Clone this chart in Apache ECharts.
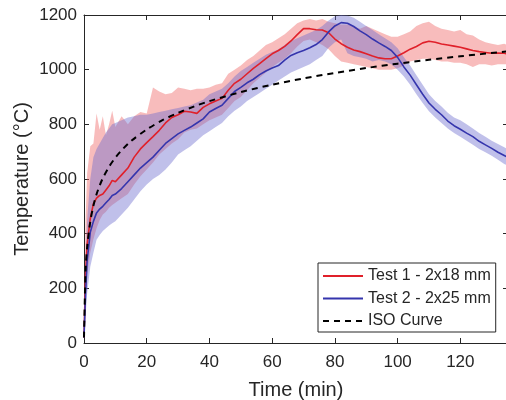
<!DOCTYPE html>
<html>
<head>
<meta charset="utf-8">
<script src="https://cdn.jsdelivr.net/npm/echarts@6/dist/echarts.min.js"></script>
<style>
  html, body { margin: 0; padding: 0; background: #ffffff; }
  #chart { width: 506px; height: 400px; }
</style>
</head>
<body>
<div id="chart"></div>
<script>
// time samples (min) shared by both tests
const time = [0, 0.5, 1, 2, 3, 4, 5, 6, 7, 8, 9, 10, 12, 14, 16, 18, 20, 22, 24, 26, 28, 30, 32, 34, 36, 38, 40,
  42, 44, 46, 48, 50, 52, 54, 56, 58, 60, 62, 64, 66, 68, 70, 72, 74, 76, 78, 80, 82, 84, 86, 88, 90,
  92, 94, 96, 98, 100, 102, 104, 106, 108, 110, 112, 114, 116, 118, 120, 122, 124, 126, 128, 130, 132, 134, 135];

// Test 1 - 2x18 mm
const test1Mean = [20, 250, 360, 455, 510, 530, 540, 545, 560, 575, 595, 590, 615, 640, 680, 710, 733, 755, 778, 805, 825, 835, 848, 845, 840, 862,
  875, 885, 895, 925, 950, 965, 985, 1005, 1022, 1040, 1058, 1070, 1085, 1105, 1128, 1150, 1150, 1146, 1145, 1135, 1112, 1095, 1082, 1072, 1066, 1058,
  1050, 1043, 1040, 1040, 1050, 1062, 1075, 1085, 1098, 1104, 1100, 1094, 1090, 1086, 1082, 1076, 1070, 1066, 1063, 1060, 1061, 1060, 1058];
const test1Low = [20, 150, 250, 330, 380, 420, 450, 470, 480, 495, 505, 513, 530, 545, 580, 610, 635, 660, 690, 710, 730, 745, 770, 780, 785, 800,
  815, 825, 835, 860, 885, 900, 925, 950, 970, 990, 1010, 1025, 1040, 1060, 1085, 1105, 1110, 1100, 1090, 1075, 1050, 1030, 1025, 1020, 1015, 1010,
  1005, 1000, 1000, 1000, 1005, 1015, 1030, 1035, 1040, 1040, 1035, 1030, 1030, 1025, 1025, 1020, 1010, 1020, 1020, 1015, 1020, 1020, 1020];
const test1High = [20, 450, 620, 720, 730, 840, 780, 830, 760, 800, 850, 790, 830, 800, 830, 845, 840, 935, 920, 910, 915, 935, 930, 925, 930, 930,
  935, 945, 950, 985, 1000, 1015, 1035, 1050, 1070, 1090, 1100, 1115, 1130, 1150, 1170, 1180, 1185, 1180, 1185, 1175, 1170, 1165, 1165, 1160, 1150, 1160,
  1150, 1140, 1130, 1120, 1120, 1130, 1140, 1160, 1170, 1175, 1160, 1150, 1145, 1140, 1145, 1130, 1125, 1110, 1100, 1095, 1090, 1095, 1090];

// Test 2 - 2x25 mm
const test2Mean = [20, 180, 300, 405, 445, 476, 490, 500, 513, 525, 540, 545, 565, 590, 615, 640, 660, 680, 705, 730, 748, 765, 778, 790, 805, 820,
  845, 858, 870, 895, 920, 935, 952, 965, 982, 995, 1006, 1015, 1035, 1052, 1062, 1070, 1080, 1092, 1110, 1138, 1160, 1172, 1170, 1158, 1142, 1128,
  1112, 1098, 1085, 1070, 1045, 1010, 980, 945, 910, 878, 855, 835, 812, 795, 782, 768, 755, 738, 725, 712, 698, 686, 680];
const test2Low = [20, 100, 180, 279, 330, 378, 395, 410, 420, 430, 438, 445, 470, 495, 525, 555, 580, 600, 615, 635, 660, 690, 705, 720, 740, 760,
  775, 790, 805, 830, 850, 865, 885, 900, 915, 930, 945, 960, 975, 990, 1000, 1010, 1020, 1035, 1050, 1080, 1100, 1110, 1060, 1050, 1045, 1040,
  1030, 1035, 1030, 1020, 1000, 975, 945, 910, 878, 848, 825, 805, 785, 768, 755, 740, 725, 710, 698, 685, 670, 655, 650];
const test2High = [20, 300, 450, 600, 680, 710, 730, 750, 770, 785, 800, 805, 815, 825, 830, 835, 835, 840, 845, 850, 855, 860, 865, 870, 880, 890,
  910, 920, 930, 950, 975, 995, 1010, 1025, 1040, 1055, 1065, 1075, 1090, 1105, 1115, 1125, 1135, 1145, 1160, 1180, 1195, 1200, 1198, 1190, 1175, 1160,
  1145, 1130, 1115, 1100, 1078, 1045, 1015, 980, 945, 910, 885, 865, 842, 825, 815, 800, 785, 768, 755, 740, 728, 716, 710];

// ISO curve
const isoTime = [0, 0.5, 1, 2, 3, 4, 5, 6, 8, 10, 12, 15, 20, 25, 30, 35, 40, 50, 60, 70, 80, 90, 100, 110, 120, 135];
const isoTemp = [20, 261, 349, 444, 502, 544, 576, 603, 645, 678, 705, 739, 781, 815, 842, 865, 885, 918, 945, 968, 988, 1006, 1022, 1036, 1049, 1067];

const seriesNames = ['Test 1 - 2x18 mm', 'Test 2 - 2x25 mm', 'ISO Curve'];

const FG = '#262626';
const FONT = "'Liberation Sans', Arial, Helvetica, sans-serif";
const RED = '#e0202a';
const BLUE = '#3535ad';
const RED_BAND = 'rgba(238, 95, 95, 0.42)';
const BLUE_BAND = 'rgba(105, 105, 205, 0.42)';

const pairs = (xs, ys) => xs.map((x, i) => [x, ys[i]]);

const bandSeries = (low, high, fill) => ({
  type: 'custom',
  silent: true,
  clip: true,
  data: [[0, 0]],
  renderItem: (params, api) => {
    const upper = time.map((t, i) => api.coord([t, high[i]]));
    const lower = time.map((t, i) => api.coord([t, low[i]])).reverse();
    return {
      type: 'polygon',
      shape: { points: upper.concat(lower) },
      style: { fill: fill },
    };
  },
});

const chart = echarts.init(document.getElementById('chart'));

const xCommon = {
  type: 'value',
  min: 0,
  max: 135.2,
  interval: 20,
  splitLine: { show: false },
  axisLine: { onZero: false, lineStyle: { color: FG, width: 1 } },
  axisTick: { inside: true, length: 5, lineStyle: { color: FG } },
};
const yCommon = {
  type: 'value',
  min: 0,
  max: 1200,
  interval: 200,
  splitLine: { show: false },
  axisLine: { show: true, onZero: false, lineStyle: { color: FG, width: 1 } },
  axisTick: { show: true, inside: true, length: 5, lineStyle: { color: FG } },
};

const option = {
  animation: false,
  backgroundColor: '#ffffff',
  textStyle: { fontFamily: FONT },
  grid: { left: 84, top: 15, right: -2, bottom: 57, containLabel: false, outerBoundsMode: 'none' },
  legend: {
    orient: 'vertical',
    left: 318,
    top: 263,
    data: seriesNames,
    itemWidth: 40,
    itemHeight: 16,
    itemGap: 6.5,
    padding: [5, 5, 3, 4],
    borderColor: FG,
    borderWidth: 1,
    borderRadius: 0,
    backgroundColor: '#ffffff',
    itemStyle: { opacity: 0 },
    textStyle: { color: FG, fontSize: 16, fontFamily: FONT },
  },
  xAxis: [
    Object.assign({}, xCommon, {
      position: 'bottom',
      name: 'Time (min)',
      nameLocation: 'middle',
      nameGap: 37,
      nameMoveOverlap: false,
      nameTextStyle: { color: FG, fontSize: 20, fontFamily: FONT },
      axisLabel: {
        color: FG,
        fontSize: 17,
        margin: 11,
        showMaxLabel: false,
        formatter: (v) => (v % 20 === 0 ? String(v) : ''),
      },
    }),
    Object.assign({}, xCommon, {
      position: 'top',
      axisLabel: { show: false },
    }),
  ],
  yAxis: [
    Object.assign({}, yCommon, {
      position: 'left',
      name: 'Temperature (°C)',
      nameLocation: 'middle',
      nameGap: 52,
      nameMoveOverlap: false,
      nameTextStyle: { color: FG, fontSize: 20, fontFamily: FONT },
      axisLabel: { color: FG, fontSize: 17, margin: 7, formatter: (v) => String(v) },
    }),
    Object.assign({}, yCommon, {
      position: 'right',
      axisLabel: { show: false },
    }),
  ],
  series: [
    bandSeries(test1Low, test1High, RED_BAND),
    bandSeries(test2Low, test2High, BLUE_BAND),
    {
      name: seriesNames[0],
      type: 'line',
      data: pairs(time, test1Mean),
      symbol: 'none',
      lineStyle: { color: RED, width: 1.6 },
      itemStyle: { color: RED },
    },
    {
      name: seriesNames[1],
      type: 'line',
      data: pairs(time, test2Mean),
      symbol: 'none',
      lineStyle: { color: BLUE, width: 1.6 },
      itemStyle: { color: BLUE },
    },
    {
      name: seriesNames[2],
      type: 'line',
      data: pairs(isoTime, isoTemp),
      symbol: 'none',
      smooth: 0.3,
      lineStyle: { color: '#000000', width: 2, type: [6, 5] },
      itemStyle: { color: '#000000' },
    },
  ],
};

chart.setOption(option);
</script>
</body>
</html>
